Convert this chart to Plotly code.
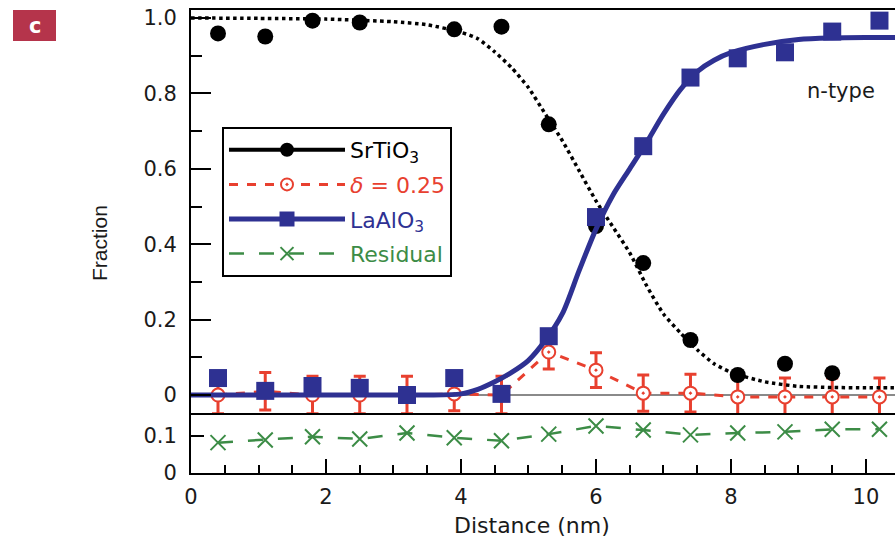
import plotly.graph_objects as go

# ---------------- data ----------------
x_pts = [0.4, 1.1, 1.8, 2.5, 3.2, 3.9, 4.6, 5.3, 6.0, 6.7, 7.4, 8.1, 8.8, 9.5, 10.2]
srtio3 = [0.959, 0.951, 0.993, 0.988, None, 0.970, 0.977, 0.718, 0.448, 0.350, 0.146, 0.053, 0.083, 0.058, None]
laalo3 = [0.045, 0.011, 0.024, 0.019, 0.000, 0.045, 0.003, 0.156, 0.472, 0.660, 0.842, 0.893, 0.909, 0.964, 0.993]
delta = [0.000, 0.010, 0.000, 0.000, 0.000, 0.003, 0.000, 0.114, 0.066, 0.005, 0.005, -0.005, -0.005, -0.005, -0.005]
delta_err = [0.050, 0.050, 0.050, 0.050, 0.050, 0.045, 0.050, 0.045, 0.046, 0.048, 0.050, 0.050, 0.050, 0.050, 0.050]
residual = [0.082, 0.089, 0.098, 0.092, 0.108, 0.095, 0.087, 0.105, 0.127, 0.116, 0.103, 0.108, 0.111, 0.118, 0.118]

fit_x = [0, 1, 2, 3, 3.5, 4, 4.25, 4.5, 4.75, 5, 5.25, 5.5, 5.75, 6, 6.25, 6.5, 6.75, 7,
         7.25, 7.5, 7.75, 8, 8.5, 9, 9.5, 10, 10.5]
srtio3_fit = [1.0, 0.999, 0.997, 0.990, 0.982, 0.962, 0.945, 0.910, 0.868, 0.815, 0.745, 0.675,
              0.595, 0.515, 0.446, 0.377, 0.290, 0.215, 0.165, 0.120, 0.083, 0.060, 0.035,
              0.023, 0.020, 0.019, 0.019]
laalo3_fit = [0.0, 0.0, 0.0, 0.0, 0.0, 0.003, 0.015, 0.035, 0.060, 0.092, 0.145, 0.215, 0.330,
              0.440, 0.530, 0.600, 0.670, 0.745, 0.810, 0.858, 0.888, 0.908, 0.930, 0.943,
              0.947, 0.948, 0.948]

x_ticks = [0, 2, 4, 6, 8, 10]
x_minor = [0.5, 1, 1.5, 2.5, 3, 3.5, 4.5, 5, 5.5, 6.5, 7, 7.5, 8.5, 9, 9.5, 10.5]
y_ticks = [0, 0.2, 0.4, 0.6, 0.8, 1.0]
y_ticktext = ["0", "0.2", "0.4", "0.6", "0.8", "1.0"]
y_minor = [0.1, 0.3, 0.5, 0.7, 0.9]
res_ticks = [0, 0.1]
res_ticktext = ["0", "0.1"]

# ---------------- styles ----------------
BLACK = "#000000"
RED = "#E8402F"
BLUE = "#2E3192"
GREEN = "#3C8C46"
FONT = "DejaVu Sans, Verdana, sans-serif"
TXT = "#1a1a1a"

fig = go.Figure()

# red delta series with error bars
fig.add_trace(go.Scatter(
    x=x_pts, y=delta, mode="lines+markers", showlegend=False,
    line=dict(color=RED, width=3, dash="dash"),
    marker=dict(symbol="circle-dot", size=13, color="white", line=dict(color=RED, width=2)),
    error_y=dict(type="data", array=delta_err, visible=True, color=RED, thickness=3, width=6),
    xaxis="x", yaxis="y"))

# SrTiO3 fit (dotted)
fig.add_trace(go.Scatter(
    x=fit_x, y=srtio3_fit, mode="lines", showlegend=False,
    line=dict(color=BLACK, width=3.5, dash="dot", shape="spline", smoothing=0.6),
    xaxis="x", yaxis="y"))

# SrTiO3 points
fig.add_trace(go.Scatter(
    x=x_pts, y=srtio3, mode="markers", showlegend=False,
    marker=dict(symbol="circle", size=16, color=BLACK),
    xaxis="x", yaxis="y"))

# LaAlO3 fit
fig.add_trace(go.Scatter(
    x=fit_x, y=laalo3_fit, mode="lines", showlegend=False,
    line=dict(color=BLUE, width=5, shape="spline", smoothing=0.8),
    xaxis="x", yaxis="y"))

# LaAlO3 points
fig.add_trace(go.Scatter(
    x=x_pts, y=laalo3, mode="markers", showlegend=False,
    marker=dict(symbol="square", size=18, color=BLUE),
    xaxis="x", yaxis="y"))

# residual (bottom panel)
fig.add_trace(go.Scatter(
    x=x_pts, y=residual, mode="lines+markers", showlegend=False,
    line=dict(color=GREEN, width=2.5, dash="longdash"),
    marker=dict(symbol="x-thin", size=15, line=dict(color=GREEN, width=2)),
    xaxis="x2", yaxis="y2"))

# legend entries
legend_specs = [
    ("SrTiO<sub>3</sub>", BLACK, dict(color=BLACK, width=4), dict(symbol="circle", size=14, color=BLACK)),
    ("<i>δ</i> = 0.25", RED, dict(color=RED, width=3, dash="dash"),
     dict(symbol="circle-dot", size=12, color="white", line=dict(color=RED, width=2))),
    ("LaAlO<sub>3</sub>", BLUE, dict(color=BLUE, width=5), dict(symbol="square", size=15, color=BLUE)),
    ("Residual", GREEN, dict(color=GREEN, width=2.5, dash="longdash"),
     dict(symbol="x-thin", size=13, line=dict(color=GREEN, width=2))),
]
for i, (name, col, ln, mk) in enumerate(legend_specs):
    fig.add_trace(go.Scatter(
        x=[None], y=[None], mode="lines+markers",
        name=f"<span style='color:{col}'>{name}</span>",
        line=ln, marker=mk, legendgroup=f"g{i}", showlegend=True,
        xaxis="x", yaxis="y"))

W, H = 895, 539
L, R, T, B = 191, 0, 10, 66
pw, ph = W - L - R, H - T - B
split = (473 - 413) / ph

def px(xp):
    return (xp - L) / pw

def py(yp):
    return (H - B - yp) / ph

axis_common = dict(showline=True, linecolor=BLACK, linewidth=2, showgrid=False,
                   tickcolor=BLACK, tickwidth=2,
                   tickfont=dict(family=FONT, size=21, color=TXT))

fig.update_layout(
    width=W, height=H,
    margin=dict(l=L, r=R, t=T, b=B),
    paper_bgcolor="white", plot_bgcolor="white",
    font=dict(family=FONT, color=TXT),
    xaxis=dict(domain=[0, 1], anchor="y", range=[0, 10.43], mirror=True, ticks="",
               showticklabels=False, zeroline=False, matches="x2", **axis_common),
    yaxis=dict(domain=[split, 1], anchor="x", range=[-0.0477, 1.0212], ticks="inside",
               ticklen=20, tickvals=y_ticks, ticktext=y_ticktext, ticklabelstandoff=8,
               minor=dict(tickvals=y_minor, ticks="inside", ticklen=11, tickwidth=2, tickcolor=BLACK),
               zeroline=True, zerolinecolor="#8a8a8a", zerolinewidth=1.5, **axis_common),
    xaxis2=dict(domain=[0, 1], anchor="y2", range=[0, 10.43], ticks="inside", ticklen=14,
                tickvals=x_ticks, ticklabelstandoff=4,
                minor=dict(tickvals=x_minor, ticks="inside", ticklen=8, tickwidth=2, tickcolor=BLACK),
                zeroline=False, **axis_common),
    yaxis2=dict(domain=[0, split], anchor="x2", range=[0, 0.162], ticks="inside", ticklen=13,
                tickvals=res_ticks, ticktext=res_ticktext, ticklabelstandoff=8,
                zeroline=False, **axis_common),
    legend=dict(x=px(222), y=py(127), xanchor="left", yanchor="top",
                bgcolor="white", bordercolor=BLACK, borderwidth=2,
                font=dict(family=FONT, size=22),
                traceorder="grouped", tracegroupgap=3, itemwidth=116),
    showlegend=True,
)

fig.add_shape(type="rect", xref="paper", yref="paper",
              x0=px(13), x1=px(56), y0=py(41), y1=py(10),
              fillcolor="#B5344B", line=dict(width=0))
fig.add_annotation(xref="paper", yref="paper", x=px(34.5), y=py(25.5), text="<b>c</b>",
                   showarrow=False, font=dict(family=FONT, size=21, color="white"),
                   xanchor="center", yanchor="middle")
fig.add_annotation(xref="paper", yref="paper", x=px(841), y=py(91), text="n-type",
                   showarrow=False, font=dict(family=FONT, size=21, color=TXT),
                   xanchor="center", yanchor="middle")
fig.add_annotation(xref="paper", yref="paper", x=px(100), y=py(243), text="Fraction",
                   textangle=-90, showarrow=False,
                   font=dict(family="Liberation Sans, Arial, sans-serif", size=21, color=TXT),
                   xanchor="center", yanchor="middle")
fig.add_annotation(xref="x2", yref="paper", x=5.05, y=py(525), text="Distance (nm)",
                   showarrow=False, font=dict(family=FONT, size=22, color=TXT),
                   xanchor="center", yanchor="middle")

fig.write_html("out.html")
